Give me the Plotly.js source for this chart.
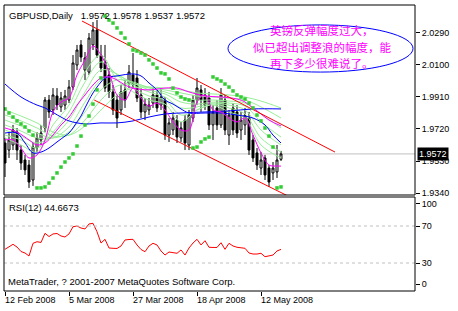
<!DOCTYPE html>
<html>
<head>
<meta charset="utf-8">
<script src="https://cdn.plot.ly/plotly-3.0.1.min.js"></script>
<style>html,body{margin:0;padding:0;background:#fff;}#chart{width:458px;height:311px;}</style>
</head>
<body>
<div id="chart"></div>
<script>
// ---- data ----
const tickIdx = [0, 16, 32, 48, 64];
const tickText = ['12 Feb 2008', '5 Mar 2008', '27 Mar 2008', '18 Apr 2008', '12 May 2008'];
const priceTicks = [2.0290, 2.0100, 1.9910, 1.9720, 1.9530, 1.9340];

const open = [1.9637,1.9595,1.9625,1.9702,1.9595,1.9536,1.9506,1.9417,1.9607,1.9655,
1.9726,1.9892,1.9833,1.9916,1.9851,1.9862,1.9892,1.9969,2.0100,2.0219,
2.0070,2.0058,2.0219,2.0308,2.0159,2.0118,2.0041,1.9940,1.9892,1.9833,
1.9952,1.9993,2.0041,2.0023,1.9922,1.9821,1.9833,1.9874,1.9922,1.9862,
1.9892,1.9684,1.9714,1.9773,1.9667,1.9773,1.9625,1.9785,1.9892,1.9952,
1.9922,1.9904,1.9744,1.9845,1.9744,1.9892,1.9684,1.9845,1.9821,1.9714,
1.9744,1.9785,1.9655,1.9578,1.9488,1.9548,1.9488,1.9459,1.9465,1.9540];
const high = [1.9667,1.9702,1.9744,1.9726,1.9625,1.9566,1.9536,1.9643,1.9702,1.9744,
1.9910,1.9922,1.9963,1.9963,1.9940,1.9952,2.0011,2.0159,2.0219,2.0248,
2.0177,2.0290,2.0355,2.0367,2.0219,2.0219,2.0082,1.9981,1.9922,1.9981,
2.0011,2.0100,2.0171,2.0070,1.9963,1.9904,1.9904,1.9963,1.9952,1.9963,
1.9910,1.9785,1.9821,1.9803,1.9762,1.9803,1.9833,1.9922,2.0023,1.9981,
1.9963,1.9940,1.9862,1.9892,1.9963,1.9922,1.9833,1.9874,1.9862,1.9821,
1.9845,1.9821,1.9684,1.9607,1.9583,1.9566,1.9506,1.9524,1.9625,1.9590];
const low = [1.9435,1.9548,1.9595,1.9536,1.9477,1.9447,1.9370,1.9382,1.9583,1.9625,
1.9702,1.9785,1.9803,1.9833,1.9821,1.9833,1.9874,1.9952,2.0070,2.0118,
2.0011,2.0041,2.0189,2.0142,2.0058,1.9940,1.9904,1.9803,1.9726,1.9803,
1.9845,1.9963,1.9963,1.9880,1.9785,1.9773,1.9803,1.9845,1.9821,1.9833,
1.9655,1.9643,1.9684,1.9637,1.9643,1.9595,1.9595,1.9762,1.9862,1.9821,
1.9833,1.9714,1.9655,1.9714,1.9726,1.9684,1.9625,1.9684,1.9667,1.9655,
1.9684,1.9566,1.9524,1.9477,1.9447,1.9417,1.9376,1.9417,1.9429,1.9530];
const close = [1.9518,1.9655,1.9714,1.9595,1.9518,1.9477,1.9405,1.9613,1.9667,1.9696,
1.9892,1.9821,1.9922,1.9862,1.9904,1.9916,1.9969,2.0112,2.0189,2.0147,
2.0142,2.0260,2.0308,2.0159,2.0082,1.9963,1.9940,1.9833,1.9785,1.9940,
1.9892,2.0058,1.9981,1.9904,1.9821,1.9868,1.9862,1.9922,1.9845,1.9910,
1.9684,1.9756,1.9785,1.9672,1.9726,1.9637,1.9803,1.9892,1.9963,1.9892,
1.9862,1.9744,1.9821,1.9744,1.9922,1.9714,1.9803,1.9714,1.9696,1.9773,
1.9803,1.9595,1.9548,1.9506,1.9536,1.9447,1.9405,1.9488,1.9536,1.9572];

const sar = [1.9839,1.9815,1.9791,1.9768,1.9750,1.9732,1.9708,1.9684,1.9370,1.9370,
1.9376,1.9399,1.9429,1.9459,1.9494,1.9524,1.9548,1.9572,1.9619,1.9678,
1.9744,1.9797,1.9868,1.9952,2.0023,2.0391,2.0367,2.0349,2.0320,2.0290,
2.0260,2.0225,2.0189,2.0183,2.0171,2.0159,2.0130,2.0106,2.0082,2.0053,
2.0047,2.0017,1.9963,1.9934,1.9910,1.9898,1.9892,1.9607,1.9613,1.9643,
1.9661,1.9672,2.0029,2.0017,2.0005,1.9987,1.9969,1.9946,1.9922,1.9910,
1.9898,1.9874,1.9845,1.9803,1.9768,1.9726,1.9678,1.9613,1.9370,1.9376];

const rsi = [44.8,47.3,50.2,47.3,42.4,40.8,37.6,51.3,53.0,52.2,
62.1,58.6,61.4,61.9,59.2,58.1,61.4,69.2,70.0,67.8,
66.8,72.2,72.9,63.8,51.6,55.6,46.2,45.9,45.7,48.4,
54.9,55.4,55.6,49.5,44.6,42.2,48.4,51.3,49.5,43.0,
38.6,41.9,41.4,40.5,44.1,38.6,46.2,51.6,55.6,49.5,
54.1,47.0,46.8,46.8,51.9,44.8,51.3,48.4,47.0,46.2,
45.9,40.8,39.7,39.7,40.5,36.8,37.6,38.6,43.0,44.7];

// light green ribbon, read at these bars
const ribbonX = [0,4,8,12,16,20,24,28,32,36,40,44,48,52,56,60,64,69];
const green1 = [1.9667,1.9625,1.9583,1.9744,1.9862,2.0058,2.0159,2.0011,1.9940,1.9892,1.9868,1.9762,1.9833,1.9862,1.9821,1.9785,1.9625,1.9548];
const green2 = [1.9684,1.9655,1.9607,1.9702,1.9821,1.9999,2.0118,2.0041,1.9963,1.9916,1.9892,1.9803,1.9833,1.9868,1.9845,1.9809,1.9667,1.9583];
const green3 = [1.9714,1.9678,1.9637,1.9678,1.9773,1.9940,2.0070,2.0047,1.9981,1.9940,1.9910,1.9845,1.9851,1.9874,1.9862,1.9833,1.9714,1.9625];
const green4 = [1.9744,1.9708,1.9667,1.9667,1.9732,1.9880,2.0011,2.0035,1.9993,1.9952,1.9928,1.9880,1.9868,1.9880,1.9874,1.9856,1.9762,1.9672];
const green5 = [1.9773,1.9738,1.9696,1.9667,1.9702,1.9821,1.9952,2.0011,1.9999,1.9963,1.9940,1.9910,1.9892,1.9892,1.9886,1.9874,1.9809,1.9726];
const green6 = [1.9803,1.9768,1.9726,1.9678,1.9684,1.9773,1.9892,1.9975,1.9987,1.9969,1.9952,1.9934,1.9916,1.9910,1.9904,1.9892,1.9851,1.9785];
const green7 = [1.9833,1.9797,1.9756,1.9702,1.9684,1.9738,1.9833,1.9922,1.9963,1.9969,1.9963,1.9952,1.9934,1.9928,1.9922,1.9910,1.9886,1.9845];

const blueSlowX = [0,4,8,10,14,16,20,24,28,32,36,40,44,50,56,62,69];
const blueSlow = [1.9987,1.9910,1.9862,1.9845,1.9791,1.9768,1.9750,1.9756,1.9756,1.9768,1.9791,1.9809,1.9815,1.9821,1.9827,1.9839,1.9839];
const blueFastX = [0,3,5,7,9,11,13,15,16,17,18,19,20,21,22,23,24,25,28,32,34,36,38,40,42,44,46,50,54,58,62,65,67,69];
const blueFast = [1.9696,1.9696,1.9637,1.9578,1.9583,1.9607,1.9643,1.9678,1.9696,1.9726,1.9762,1.9797,1.9845,1.9892,1.9934,1.9969,1.9999,2.0023,2.0035,2.0047,2.0035,1.9993,1.9952,1.9892,1.9868,1.9839,1.9815,1.9815,1.9815,1.9803,1.9785,1.9744,1.9684,1.9637];

const magFastX = [0,2,4,6,8,10,12,14,16,18,20,22,24,26,28,30,32,34,36,38,40,42,44,46,48,50,52,54,56,58,60,62,64,66,68,69];
const magFast = [1.9655,1.9655,1.9607,1.9548,1.9566,1.9655,1.9821,1.9880,1.9904,2.0041,2.0130,2.0213,2.0159,2.0058,1.9922,1.9892,1.9963,1.9904,1.9856,1.9874,1.9833,1.9762,1.9714,1.9714,1.9880,1.9922,1.9833,1.9821,1.9785,1.9762,1.9785,1.9684,1.9578,1.9506,1.9500,1.9500];
const magSlowX = [0,3,6,8,10,12,14,16,18,20,22,24,26,28,30,32,36,40,43,46,50,54,58,60,62,64,66,69];
const magSlow = [1.9726,1.9702,1.9655,1.9625,1.9637,1.9684,1.9744,1.9791,1.9862,1.9922,1.9981,2.0023,2.0029,2.0011,1.9981,1.9963,1.9952,1.9963,1.9963,1.9940,1.9916,1.9910,1.9898,1.9880,1.9845,1.9809,1.9773,1.9738];

// channel lines (bar, price)
const upperX = [19.25, 82.5], upperY = [2.0361, 1.9583];
const lowerX = [22.3, 74.75], lowerY = [1.9892, 1.9275];

const lastPrice = 1.9572;
const header = 'GBPUSD,Daily\u00a0\u00a0 1.9572 1.9578 1.9537 1.9572';
const rsiHeader = 'RSI(12) 44.6673';
const copyright = 'MetaTrader, ? 2001-2007 MetaQuotes Software Corp.';
const noteLines = ['英镑反弹幅度过大，', '似已超出调整浪的幅度，能', '再下多少很难说了。'];
const notePrices = [2.0310, 2.0206, 2.0114];
const noteBar = 79.3;
const ellipseBars = [55.75, 102], ellipsePrices = [2.0058, 2.0338];

// ---- chart ----
const bar = close.map((_, i) => i);
const FONT = 'Liberation Sans, Arial, sans-serif';
const line = (x, y, color, ax) => ({type:'scatter', mode:'lines', x, y, xaxis:ax[0], yaxis:ax[1],
  line:{color, width:1, shape:'spline', smoothing:1}, hoverinfo:'skip'});

const traces = [];
traces.push({type:'candlestick', x:bar, open, high, low, close, xaxis:'x', yaxis:'y',
  increasing:{line:{color:'#000', width:1}, fillcolor:'#fff'},
  decreasing:{line:{color:'#000', width:1}, fillcolor:'#000'},
  whiskerwidth:0, hoverinfo:'skip'});
[green7, green6, green5, green4, green3, green2, green1].forEach(g => traces.push(line(ribbonX, g, '#98ee98', ['x','y'])));
traces.push(line(blueSlowX, blueSlow, '#0000ff', ['x','y']));
traces.push(line(blueFastX, blueFast, '#0000ff', ['x','y']));
traces.push(line(magSlowX, magSlow, '#ff00ff', ['x','y']));
traces.push(line(magFastX, magFast, '#ff00ff', ['x','y']));
traces.push({type:'scatter', mode:'lines', x:upperX, y:upperY, line:{color:'#ff0000', width:1}, hoverinfo:'skip'});
traces.push({type:'scatter', mode:'lines', x:lowerX, y:lowerY, line:{color:'#ff0000', width:1}, hoverinfo:'skip'});
traces.push({type:'scatter', mode:'markers', x:bar, y:sar, marker:{symbol:'square', size:3.5, color:'#33cc33', line:{width:0}}, hoverinfo:'skip'});
traces.push({type:'scatter', mode:'lines', x:bar, y:rsi, xaxis:'x2', yaxis:'y2', line:{color:'#ff0000', width:1}, hoverinfo:'skip'});

const mainBottom = (291 - 195) / 286, rsiTop = (291 - 197) / 286;

const annotations = [
  {text:header, xref:'paper', x:0, xanchor:'left', xshift:3, yref:'paper', y:1, yanchor:'top', yshift:-3, showarrow:false, font:{family:FONT, size:9.5, color:'#000'}},
  {text:rsiHeader, xref:'paper', x:0, xanchor:'left', xshift:3, yref:'paper', y:rsiTop, yanchor:'top', yshift:-3, showarrow:false, font:{family:FONT, size:9.5, color:'#000'}},
  {text:copyright, xref:'paper', x:0, xanchor:'left', xshift:2, yref:'paper', y:0, yanchor:'bottom', yshift:2, showarrow:false, font:{family:FONT, size:9.5, color:'#000'}},
  {text:lastPrice.toFixed(4), xref:'paper', x:1, xanchor:'left', xshift:2, yref:'y', y:lastPrice, yanchor:'middle', showarrow:false, bgcolor:'#000', borderpad:1, font:{family:FONT, size:9, color:'#fff'}}
];
tickIdx.forEach((t, k) => annotations.push({text:tickText[k], xref:'x2', x:t, xanchor:'left', xshift:-2, yref:'paper', y:0, yanchor:'top', yshift:-2, showarrow:false, font:{family:FONT, size:9, color:'#000'}}));
noteLines.forEach((t, k) => annotations.push({text:t, xref:'x', x:noteBar, xanchor:'center', yref:'y', y:notePrices[k], yanchor:'middle', showarrow:false, borderpad:0, font:{family:'Noto Sans CJK SC', size:11.5, color:'#ff00ff'}}));

const shapes = [
  {type:'line', xref:'paper', x0:0, x1:1, yref:'y', y0:lastPrice, y1:lastPrice, line:{color:'#c0c0c0', width:1}, layer:'below'},
  {type:'line', xref:'paper', x0:0, x1:1, yref:'y2', y0:70, y1:70, line:{color:'#c0c0c0', width:1, dash:'3px,3px'}},
  {type:'line', xref:'paper', x0:0, x1:1, yref:'y2', y0:30, y1:30, line:{color:'#c0c0c0', width:1, dash:'3px,3px'}},
  {type:'circle', xref:'x', yref:'y', x0:ellipseBars[0], x1:ellipseBars[1], y0:ellipsePrices[0], y1:ellipsePrices[1], line:{color:'#0000ff', width:1}},
  {type:'rect', xref:'paper', yref:'paper', x0:0, x1:1, y0:mainBottom, y1:1, line:{color:'#000', width:1}},
  {type:'rect', xref:'paper', yref:'paper', x0:0, x1:1, y0:0, y1:rsiTop, line:{color:'#000', width:1}}
];

const layout = {
  width:458, height:311,
  margin:{l:4, r:43, t:5, b:20, pad:0},
  paper_bgcolor:'#fff', plot_bgcolor:'#fff', showlegend:false,
  font:{family:FONT, size:9, color:'#000'},
  xaxis:{domain:[0,1], anchor:'y', range:[-0.25,102.5], showticklabels:false, ticks:'', showgrid:false, zeroline:false, showline:false, rangeslider:{visible:false}},
  xaxis2:{domain:[0,1], anchor:'y2', range:[-0.25,102.5], tickvals:tickIdx, ticks:'outside', ticklen:4, tickcolor:'#000', showticklabels:false, showgrid:false, zeroline:false, showline:false, rangeslider:{visible:false}},
  yaxis:{domain:[mainBottom,1], anchor:'x', range:[1.93281,2.04562], side:'right', tickvals:priceTicks, ticktext:priceTicks.map(v => v.toFixed(4)), ticks:'outside', ticklen:4, tickcolor:'#000', tickfont:{family:FONT, size:9}, showgrid:false, zeroline:false, showline:false},
  yaxis2:{domain:[0,rsiTop], anchor:'x2', range:[-0.27,101.35], side:'right', tickvals:[93.8,70,30,7.3], ticktext:['100','70','30','0'], ticks:'outside', ticklen:4, tickcolor:'#000', tickfont:{family:FONT, size:9}, showgrid:false, zeroline:false, showline:false},
  annotations, shapes
};

Plotly.newPlot('chart', traces, layout, {staticPlot:true, displayModeBar:false});
</script>
</body>
</html>
